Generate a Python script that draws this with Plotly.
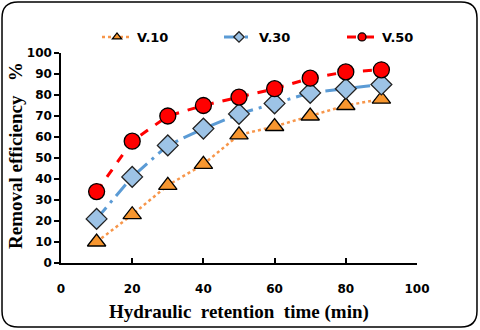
import plotly.graph_objects as go

# tiempo de retención hidráulica (min)
tiempo = [10, 20, 30, 40, 50, 60, 70, 80, 90]

# eficiencia de remoción (%) por serie
v10 = [10, 23, 37, 47, 61, 65, 70, 75, 78]
v30 = [21, 41, 56, 64, 71, 76, 81, 83, 85]
v50 = [34, 58, 70, 75, 79, 83, 88, 91, 92]

series = [
    ("V.10", v10, dict(color="#F7964A", width=2.5, dash="dot"),
     dict(symbol="triangle-up", size=16, color="#F7962F", line=dict(color="black", width=1.3))),
    ("V.30", v30, dict(color="#5B9BD5", width=3, dash="longdashdot"),
     dict(symbol="diamond", size=16, color="#9DC3E6", line=dict(color="#222222", width=1.3))),
    ("V.50", v50, dict(color="#FF0000", width=3, dash="dash"),
     dict(symbol="circle", size=16, color="#FF0000", line=dict(color="black", width=1.3))),
]

# inicio del texto de cada entrada de leyenda (px)
leyenda_x = [137, 259, 382]

W, H = 480, 330
ml, mr, mt, mb = 61, 63, 53, 67
pw, ph = W - ml - mr, H - mt - mb

fig = go.Figure()
leyendas = {}
for i, (nombre, valores, linea, marcador) in enumerate(series):
    lg = "legend" if i == 0 else f"legend{i + 1}"
    fig.add_trace(go.Scatter(
        x=tiempo, y=valores, mode="lines+markers", name=nombre,
        line=linea, marker=marcador, showlegend=False
    ))
    # entrada de leyenda con marcador pequeño
    fig.add_trace(go.Scatter(
        x=[None], y=[None], mode="lines+markers", name=nombre,
        line=linea, marker=dict(marcador, size=8), legend=lg
    ))
    leyendas[lg] = dict(
        xref="container", yref="container",
        x=(leyenda_x[i] - 40) / W, xanchor="left", y=1 - 37 / H, yanchor="middle",
        font=dict(family="DejaVu Sans", size=13, color="black", weight="bold"),
        itemwidth=30, bgcolor="rgba(0,0,0,0)", borderwidth=0)


def px2paper(x, y):
    return (x - ml) / pw, (H - mb - y) / ph

def P(x, y):
    a, b = px2paper(x, y)
    return f"{a:.4f},{b:.4f}"

# marco redondeado alrededor de toda la figura
x0, y0, x1, y1, r = 2, 2, 477, 327, 16
path = (f"M {P(x0 + r, y0)} L {P(x1 - r, y0)} Q {P(x1, y0)} {P(x1, y0 + r)} "
        f"L {P(x1, y1 - r)} Q {P(x1, y1)} {P(x1 - r, y1)} "
        f"L {P(x0 + r, y1)} Q {P(x0, y1)} {P(x0, y1 - r)} "
        f"L {P(x0, y0 + r)} Q {P(x0, y0)} {P(x0 + r, y0)} Z")

tx, ty = px2paper(15, 156)
bx, by = px2paper(239, 312)

fig.update_layout(
    width=W, height=H,
    margin=dict(l=ml, r=mr, t=mt, b=mb, autoexpand=False),
    plot_bgcolor="white", paper_bgcolor="white",
    font=dict(family="DejaVu Sans", size=12, color="black"),
    shapes=[dict(type="path", xref="paper", yref="paper", path=path,
                 line=dict(color="black", width=1.5), layer="below")],
    xaxis=dict(range=[0, 100], dtick=20, showgrid=False, zeroline=False,
               showline=True, linecolor="black", linewidth=1.5, automargin=False,
               ticks="inside", ticklen=5, tickcolor="black", tickwidth=1.5,
               ticklabelstandoff=14,
               tickfont=dict(family="DejaVu Sans", size=12, weight="bold")),
    yaxis=dict(range=[0, 100], dtick=10, showgrid=False, zeroline=False,
               showline=True, linecolor="black", linewidth=1.5, automargin=False,
               ticks="outside", ticklen=5, tickcolor="black", tickwidth=1.5,
               tickfont=dict(family="DejaVu Sans", size=12, weight="bold")),
    annotations=[
        dict(text="Removal efficiency   %", xref="paper", yref="paper", x=tx, y=ty,
             textangle=-90, showarrow=False, xanchor="center", yanchor="middle",
             font=dict(family="Liberation Serif", size=19, weight="bold")),
        dict(text="Hydraulic  retention  time (min)", xref="paper", yref="paper", x=bx, y=by,
             showarrow=False, xanchor="center", yanchor="middle",
             font=dict(family="Liberation Serif", size=19, weight="bold")),
    ],
    **leyendas,
)

# sin margen del body para que la figura ocupe toda la ventana
fig.write_html("out.html", config={"displayModeBar": False},
               post_script="document.body.style.margin='0';")
